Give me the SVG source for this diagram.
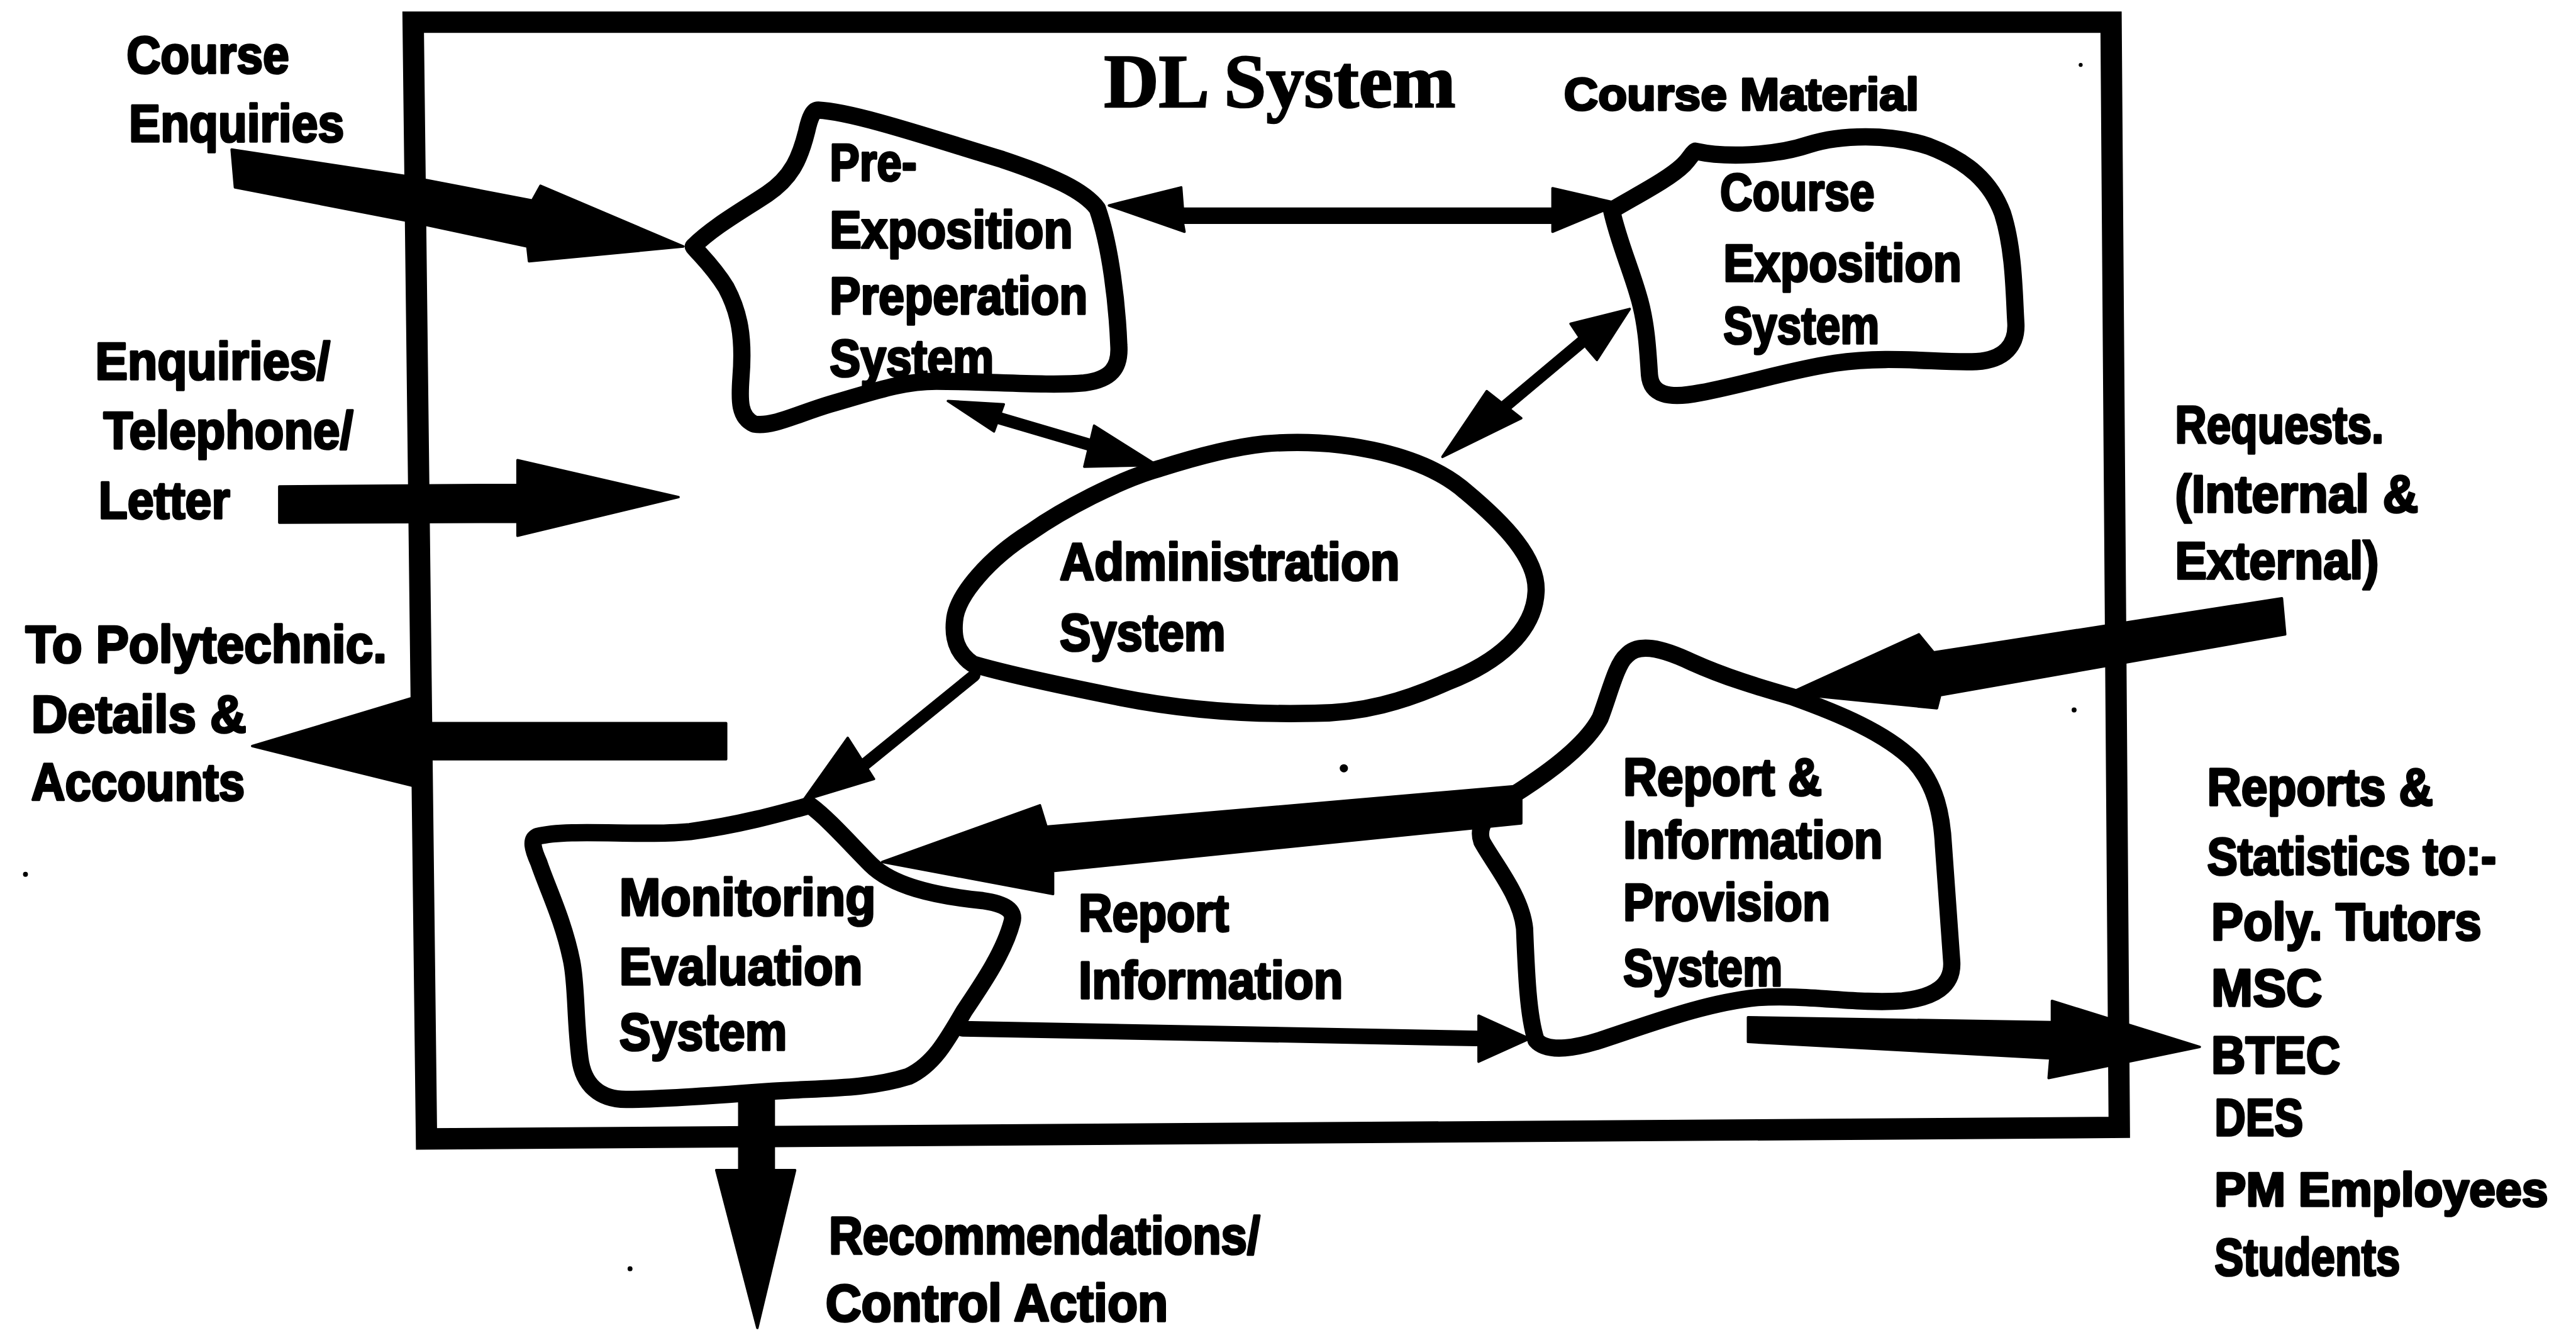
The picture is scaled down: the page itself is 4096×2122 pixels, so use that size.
<svg xmlns="http://www.w3.org/2000/svg" width="4096" height="2122" viewBox="0 0 4096 2122">
<style>
  .lbl { font-family: "Liberation Sans", Arial, sans-serif; font-weight: bold; font-size: 32px; fill: #000; stroke: #000; stroke-width: 1.4; stroke-linejoin: round; }
  .small { font-size: 28px; }
  .narrow { font-size: 29px; }
  .title { font-family: "Liberation Serif", "Times New Roman", serif; font-weight: bold; font-size: 46px; fill: #000; stroke: #000; stroke-width: 1; }
  .frame { fill: none; stroke: #000; stroke-width: 13; stroke-linejoin: miter; }
  .blob { fill: none; stroke: #000; stroke-width: 10.5; stroke-linejoin: round; }
  .solid { fill: #000; stroke: #000; stroke-width: 1.5; stroke-linejoin: round; }
  .shaft { fill: none; stroke: #000; stroke-width: 7.5; stroke-linecap: round; }
  .shaft-wide { fill: none; stroke: #000; stroke-width: 9.5; stroke-linecap: round; }
  .speck { fill: #000; }
</style>
<rect width="4096" height="2122" fill="#fff"/>
<!-- drawing laid out on a 1568 x 812 grid, scaled up to the page -->
<g transform="scale(2.61224)">

  <g id="dl-system-boundary">
    <path class="frame" d="M 251.5,13.5 L 1285,13.5 L 1290,686 L 259.6,693 Z"/>
    <text class="title" x="672" y="65" textLength="214" lengthAdjust="spacingAndGlyphs">DL System</text>
  </g>

  <g id="pre-exposition-preparation">
    <path class="blob" d="M 498,67 C 520,68 570,85 610,97 C 640,107 660,116 668,127 C 676,150 680,185 681,210 C 682,224 676,231 660,233 C 640,235 600,232 570,232 C 548,232 530,239 505,246 C 485,252 470,260 459,258 C 450,254 450,244 451,230 C 453,205 450,190 442,175 C 434,162 426,155 422,150 C 434,138 452,128 467,118 C 482,108 487,96 491,80 C 493,71 495,67 498,67 Z"/>
    <text class="lbl" x="505" y="110" textLength="53" lengthAdjust="spacingAndGlyphs">Pre-</text>
    <text class="lbl" x="505" y="151" textLength="148" lengthAdjust="spacingAndGlyphs">Exposition</text>
    <text class="lbl" x="505" y="191" textLength="157" lengthAdjust="spacingAndGlyphs">Preperation</text>
    <text class="lbl" x="505" y="229" textLength="100" lengthAdjust="spacingAndGlyphs">System</text>
  </g>

  <g id="course-exposition">
    <path class="blob" d="M 1032,92 C 1050,96 1080,95 1101,88 C 1120,82 1150,81 1174,89 C 1198,98 1212,111 1219,130 C 1226,152 1226,180 1227,196 C 1228,210 1220,219 1203,220 C 1180,221 1150,216 1117,221 C 1090,225 1062,234 1035,239 C 1015,243 1005,240 1004,228 C 1003,212 1002,195 997,179 C 992,162 985,146 981,128 C 996,119 1016,109 1025,100 C 1029,96 1030,93 1032,92 Z"/>
    <text class="lbl" x="1047" y="128" textLength="94" lengthAdjust="spacingAndGlyphs">Course</text>
    <text class="lbl" x="1049" y="171" textLength="145" lengthAdjust="spacingAndGlyphs">Exposition</text>
    <text class="lbl" x="1049" y="209" textLength="95" lengthAdjust="spacingAndGlyphs">System</text>
  </g>

  <g id="administration">
    <path class="blob" d="M 770,270 C 820,266 868,278 892,299 C 916,319 936,340 935,360 C 934,384 912,403 881,415 C 854,427 829,434 800,434 C 760,435 720,432 680,424 C 640,416 612,410 592,404 C 582,397 580,388 581,378 C 582,362 603,339 627,324 C 647,310 681,292 706,285 C 731,277 751,272 770,270 Z"/>
    <text class="lbl" x="645" y="353" textLength="207" lengthAdjust="spacingAndGlyphs">Administration</text>
    <text class="lbl" x="645" y="396" textLength="101" lengthAdjust="spacingAndGlyphs">System</text>
  </g>

  <g id="monitoring-evaluation">
    <path class="blob" d="M 327,509 C 347,504 390,509 420,506 C 450,502 475,495 493,490 C 504,498 518,514 530,526 C 543,539 568,545 598,548 C 612,550 618,554 616,561 C 611,580 597,600 587,615 C 576,634 568,648 553,655 C 528,663 500,662 470,664 C 430,667 400,669 381,669 C 365,669 355,660 353,644 C 350,620 351,600 348,585 C 343,560 333,540 328,525 C 324,516 323,511 327,509 Z"/>
    <text class="lbl" x="377" y="557" textLength="156" lengthAdjust="spacingAndGlyphs">Monitoring</text>
    <text class="lbl" x="377" y="599" textLength="148" lengthAdjust="spacingAndGlyphs">Evaluation</text>
    <text class="lbl" x="377" y="639" textLength="102" lengthAdjust="spacingAndGlyphs">System</text>
  </g>

  <g id="report-information-provision">
    <path class="blob" d="M 990,399 C 997,391 1011,394 1030,403 C 1050,412 1070,418 1091,424 C 1119,434 1148,446 1165,463 C 1178,477 1182,495 1183,515 C 1185,545 1187,570 1188,585 C 1189,600 1177,607 1158,609 C 1130,611 1100,605 1070,607 C 1040,610 1010,621 980,631 C 960,638 942,641 935,633 C 930,618 929,590 928,565 C 926,545 909,525 902,512 C 898,501 908,492 927,480 C 947,467 966,452 974,437 C 980,421 984,404 990,399 Z"/>
    <text class="lbl" x="988" y="484" textLength="121" lengthAdjust="spacingAndGlyphs">Report &amp;</text>
    <text class="lbl" x="988" y="522" textLength="158" lengthAdjust="spacingAndGlyphs">Information</text>
    <text class="lbl" x="988" y="560" textLength="126" lengthAdjust="spacingAndGlyphs">Provision</text>
    <text class="lbl" x="988" y="600" textLength="97" lengthAdjust="spacingAndGlyphs">System</text>
  </g>

  <g id="connectors">
    <!-- course enquiries in -->
    <polygon class="solid" points="141,91 246,107 324,122 329,113 416,150 322,159 321,150 246,134 143,114"/>
    <!-- enquiries / telephone / letter in -->
    <polygon class="solid" points="170,296 315,295 315,280 413,302.5 315,326 315,317.5 170,318"/>
    <!-- details and accounts out -->
    <polygon class="solid" points="442,440 250,440 250,425 153.5,454 250.5,478 250.5,462 442,462"/>
    <!-- pre-exposition <-> course exposition -->
    <polygon class="solid" points="675,125 719,114 720,127 945,127 945,114.5 986,124 945,141 945,135.5 720,135.5 721,141"/>
    <!-- course exposition <-> administration -->
    <line class="shaft" x1="963" y1="208" x2="914" y2="249"/>
    <polygon class="solid" points="956,197 992,188 972,219 966,212"/>
    <polygon class="solid" points="905,238 926,254.5 878,278"/>
    <!-- pre-exposition <-> administration -->
    <line class="shaft" x1="600" y1="252" x2="668" y2="272"/>
    <polygon class="solid" points="577,244 611,246 605,262.5"/>
    <polygon class="solid" points="666,259 660,284 704,283"/>
    <!-- administration -> monitoring -->
    <line class="shaft" x1="593" y1="411" x2="524" y2="467"/>
    <polygon class="solid" points="516,449 532,474 489,487"/>
    <!-- report provision -> monitoring -->
    <polygon class="solid" points="926,478 637,503 633,490 537,524.5 641,544 641,530 926,501"/>
    <!-- monitoring -> report provision -->
    <line class="shaft-wide" x1="586" y1="626" x2="905" y2="632"/>
    <polygon class="solid" points="900,618 931,632 900,646"/>
    <!-- requests in -->
    <polygon class="solid" points="1389,364 1177,397 1168,386 1089,422 1179,431 1181,423 1391,386"/>
    <!-- reports and statistics out -->
    <polygon class="solid" points="1064,619 1249,622 1249,609 1339,637 1247,656 1248,644 1064,634"/>
    <!-- recommendations out -->
    <polygon class="solid" points="450,668 471,668 471,712 484,712 461,808 436,712 450,712"/>
  </g>

  <g id="external-labels">
    <text class="lbl" x="77" y="44.5" textLength="99" lengthAdjust="spacingAndGlyphs">Course</text>
    <text class="lbl" x="78.5" y="86" textLength="131" lengthAdjust="spacingAndGlyphs">Enquiries</text>
    <text class="lbl" x="58" y="231" textLength="143" lengthAdjust="spacingAndGlyphs">Enquiries/</text>
    <text class="lbl" x="63" y="273" textLength="152" lengthAdjust="spacingAndGlyphs">Telephone/</text>
    <text class="lbl" x="60" y="315.5" textLength="80" lengthAdjust="spacingAndGlyphs">Letter</text>
    <text class="lbl" x="15.5" y="403" textLength="220" lengthAdjust="spacingAndGlyphs">To Polytechnic.</text>
    <text class="lbl" x="19" y="445.5" textLength="131" lengthAdjust="spacingAndGlyphs">Details &amp;</text>
    <text class="lbl" x="19" y="487" textLength="130" lengthAdjust="spacingAndGlyphs">Accounts</text>
    <text class="lbl small" x="952" y="67" textLength="216" lengthAdjust="spacingAndGlyphs">Course Material</text>
    <text class="lbl" x="656.5" y="566.5" textLength="91.5" lengthAdjust="spacingAndGlyphs">Report</text>
    <text class="lbl" x="656.5" y="607.5" textLength="161" lengthAdjust="spacingAndGlyphs">Information</text>
    <text class="lbl" x="1324" y="269.5" textLength="127" lengthAdjust="spacingAndGlyphs">Requests.</text>
    <text class="lbl" x="1324" y="311.5" textLength="148" lengthAdjust="spacingAndGlyphs">(Internal &amp;</text>
    <text class="lbl" x="1324" y="352" textLength="124" lengthAdjust="spacingAndGlyphs">External)</text>
    <text class="lbl" x="1343.5" y="490" textLength="137.5" lengthAdjust="spacingAndGlyphs">Reports &amp;</text>
    <text class="lbl" x="1343.5" y="532" textLength="176" lengthAdjust="spacingAndGlyphs">Statistics to:-</text>
    <text class="lbl" x="1346" y="572" textLength="164.5" lengthAdjust="spacingAndGlyphs">Poly. Tutors</text>
    <text class="lbl" x="1346" y="612" textLength="67.5" lengthAdjust="spacingAndGlyphs">MSC</text>
    <text class="lbl" x="1346" y="653" textLength="78.5" lengthAdjust="spacingAndGlyphs">BTEC</text>
    <text class="lbl" x="1348" y="691" textLength="54" lengthAdjust="spacingAndGlyphs">DES</text>
    <text class="lbl narrow" x="1348" y="734" textLength="203" lengthAdjust="spacingAndGlyphs">PM Employees</text>
    <text class="lbl" x="1348" y="776" textLength="113" lengthAdjust="spacingAndGlyphs">Students</text>
    <text class="lbl" x="504.5" y="763" textLength="262.5" lengthAdjust="spacingAndGlyphs">Recommendations/</text>
    <text class="lbl" x="502.5" y="804" textLength="208.5" lengthAdjust="spacingAndGlyphs">Control Action</text>
  </g>

  <g id="specks">
    <circle class="speck" cx="818" cy="467.5" r="2.5"/>
    <circle class="speck" cx="1262.5" cy="432" r="1.5"/>
    <circle class="speck" cx="1266.5" cy="39.5" r="1.2"/>
    <circle class="speck" cx="15.5" cy="532" r="1.5"/>
    <circle class="speck" cx="383.5" cy="772" r="1.5"/>
  </g>
</g>
</svg>
